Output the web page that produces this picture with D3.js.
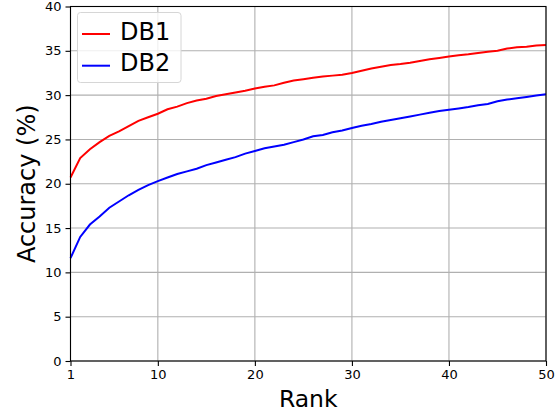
<!DOCTYPE html>
<html>
<head>
<meta charset="utf-8">
<script src="https://cdn.jsdelivr.net/npm/d3@7"></script>
<style>
  body { margin: 0; background: #fff; }
  text { font-family: "DejaVu Sans", sans-serif; }
</style>
</head>
<body>
<svg id="svg"></svg>
<script>
// values
const ranks = d3.range(1, 51);
const db1 = [20.7, 22.9, 23.9, 24.7, 25.4, 25.9, 26.5, 27.1, 27.5, 27.9,
  28.4, 28.7, 29.1, 29.4, 29.6, 29.9, 30.1, 30.3, 30.5, 30.75,
  30.95, 31.1, 31.4, 31.65, 31.8, 31.95, 32.1, 32.2, 32.3, 32.5,
  32.75, 33.0, 33.2, 33.4, 33.5, 33.65, 33.85, 34.05, 34.2, 34.35,
  34.5, 34.6, 34.75, 34.9, 35.0, 35.25, 35.4, 35.45, 35.6, 35.65];
const db2 = [11.6, 14.0, 15.4, 16.3, 17.3, 18.0, 18.7, 19.3, 19.85, 20.3,
  20.7, 21.1, 21.4, 21.7, 22.1, 22.4, 22.7, 23.0, 23.4, 23.7,
  24.0, 24.2, 24.4, 24.7, 25.0, 25.35, 25.5, 25.8, 26.0, 26.3,
  26.55, 26.75, 27.0, 27.2, 27.4, 27.6, 27.8, 28.0, 28.2, 28.35,
  28.5, 28.65, 28.85, 29.0, 29.3, 29.5, 29.65, 29.8, 29.95, 30.1];
const seriesNames = ["DB1", "DB2"];
const seriesColors = ["#ff0000", "#0000ff"];
const xTicks = [1, 10, 20, 30, 40, 50];
const yTicks = [0, 5, 10, 15, 20, 25, 30, 35, 40];

let width = 560,
	height = 412,
	m = { top: 6.5, right: 14, bottom: 51, left: 70.5 };

const svg = d3.select("#svg")
	.attr("width", width)
	.attr("height", height);

const x = d3.scaleLinear().domain([1, 50]).range([m.left, width - m.right]);
const y = d3.scaleLinear().domain([0, 40]).range([height - m.bottom, m.top]);

// grid
svg.append("g").selectAll("line")
	.data(xTicks)
	.join("line")
	.attr("x1", d => x(d)).attr("x2", d => x(d))
	.attr("y1", y(0)).attr("y2", y(40))
	.attr("stroke", "#b0b0b0").attr("stroke-width", 1.1);
svg.append("g").selectAll("line")
	.data(yTicks)
	.join("line")
	.attr("x1", x(1)).attr("x2", x(50))
	.attr("y1", d => y(d)).attr("y2", d => y(d))
	.attr("stroke", "#b0b0b0").attr("stroke-width", 1.1);

// lines
const line = d3.line().x((d, i) => x(ranks[i])).y(d => y(d));
[db1, db2].forEach((s, i) => {
	svg.append("path")
		.datum(s)
		.attr("d", line)
		.attr("fill", "none")
		.attr("stroke", seriesColors[i])
		.attr("stroke-width", 2);
});

// axes
const xAxis = svg.append("g")
	.attr("transform", `translate(0,${y(0)})`)
	.call(d3.axisBottom(x).tickValues(xTicks).tickSize(5).tickPadding(4).tickSizeOuter(0));
const yAxis = svg.append("g")
	.attr("transform", `translate(${x(1)},0)`)
	.call(d3.axisLeft(y).tickValues(yTicks).tickSize(5).tickPadding(4).tickSizeOuter(0));
[xAxis, yAxis].forEach(a => {
	a.select(".domain").remove();
	a.selectAll("text").style("font-family", "DejaVu Sans").style("font-size", "13px").attr("fill", "#000");
	a.selectAll("line").attr("stroke", "#000").attr("stroke-width", 1.1);
});

// frame
svg.append("rect")
	.attr("x", x(1)).attr("y", y(40))
	.attr("width", x(50) - x(1)).attr("height", y(0) - y(40))
	.attr("fill", "none").attr("stroke", "#000").attr("stroke-width", 1.1);

// axis labels
svg.append("text")
	.text("Rank")
	.attr("text-anchor", "middle")
	.attr("x", (x(1) + x(50)) / 2)
	.attr("y", 406.5)
	.style("font-size", "23.5px");
svg.append("text")
	.text("Accuracy (%)")
	.attr("text-anchor", "middle")
	.attr("transform", `translate(35,${(y(0) + y(40)) / 2}) rotate(-90)`)
	.style("font-size", "24px");

// legend
const lg = svg.append("g");
lg.append("rect")
	.attr("x", 77.5).attr("y", 12.5)
	.attr("width", 103.5).attr("height", 70)
	.attr("rx", 3)
	.attr("fill", "#fff").attr("fill-opacity", 0.8)
	.attr("stroke", "#d6d6d6").attr("stroke-width", 1);
seriesNames.forEach((name, i) => {
	const yy = 34 + i * 31.7;
	lg.append("line")
		.attr("x1", 82).attr("x2", 110)
		.attr("y1", yy).attr("y2", yy)
		.attr("stroke", seriesColors[i]).attr("stroke-width", 2);
	lg.append("text")
		.text(name)
		.attr("x", 120).attr("y", yy + 5.5)
		.style("font-size", "24px");
});
</script>
</body>
</html>
